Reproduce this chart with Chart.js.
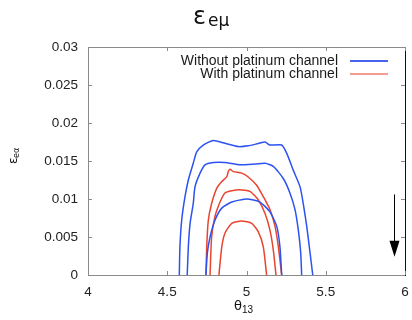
<!DOCTYPE html>
<html>
<head>
<meta charset="utf-8">
<script src="https://cdn.jsdelivr.net/npm/chart.js@4/dist/chart.umd.min.js"></script>
<style>
  body { margin: 0; background: #fff; }
</style>
</head>
<body>
<canvas id="grafico" width="412" height="320"></canvas>
<script>
// contours, [theta13, eps] pairs
var blueOuter = [[4.576,0],[4.580,0.0037],[4.591,0.0072],[4.612,0.0103],[4.633,0.0125],[4.664,0.0147],[4.686,0.0162],[4.727,0.0171],[4.791,0.0177],[4.854,0.0174],[4.948,0.0169],[5.010,0.0170],[5.074,0.0173],[5.117,0.0175],[5.148,0.0171],[5.222,0.0171],[5.254,0.0160],[5.295,0.0138],[5.338,0.0116],[5.358,0.0094],[5.380,0.0064],[5.401,0.0029],[5.418,0]];
var blueMiddle = [[4.626,0],[4.633,0.0037],[4.644,0.0068],[4.664,0.0094],[4.675,0.0116],[4.707,0.0134],[4.738,0.0145],[4.791,0.0148],[4.864,0.0148],[4.959,0.0145],[5.054,0.0146],[5.117,0.0147],[5.169,0.0143],[5.232,0.0127],[5.274,0.0108],[5.306,0.0086],[5.327,0.0059],[5.342,0.0029],[5.348,0]];
var blueInner = [[4.744,0],[4.753,0.0029],[4.770,0.0050],[4.801,0.0072],[4.844,0.0088],[4.907,0.0096],[5.001,0.0100],[5.085,0.0096],[5.148,0.0083],[5.191,0.0064],[5.211,0.0037],[5.222,0]];
var redOuter = [[4.744,0],[4.749,0.0037],[4.759,0.0072],[4.780,0.0094],[4.812,0.0114],[4.844,0.0123],[4.875,0.0129],[4.885,0.0136],[4.896,0.0139],[4.917,0.0136],[4.970,0.0134],[5.011,0.0129],[5.064,0.0118],[5.106,0.0103],[5.148,0.0086],[5.180,0.0064],[5.201,0.0037],[5.222,0]];
var redMiddle = [[4.770,0],[4.780,0.0050],[4.801,0.0077],[4.833,0.0096],[4.864,0.0108],[4.907,0.0111],[4.970,0.0112],[5.022,0.0110],[5.074,0.0099],[5.117,0.0081],[5.148,0.0059],[5.169,0.0033],[5.186,0]];
var redInner = [[4.826,0],[4.844,0.0037],[4.864,0.0055],[4.907,0.0068],[4.970,0.0071],[5.033,0.0068],[5.074,0.0057],[5.106,0.0037],[5.127,0]];

var legendLabels = ["Without platinum channel", "With platinum channel"];
var xTicks = [4, 4.5, 5, 5.5, 6];
var yTicks = [0, 0.005, 0.01, 0.015, 0.02, 0.025, 0.03];
var arrowX = 5.93, arrowFrom = 0.0106, arrowTo = 0.0024;

var azul = "#2d52f0";
var vermelho = "#e8452f";

var linha = function(pts, cor) {
  return {
    data: pts,
    borderColor: cor,
    borderWidth: 1.5,
    pointRadius: 0,
    showLine: true,
    tension: 0.2,
    fill: false
  };
};

var fonte = "'Liberation Sans', Arial, sans-serif";

var extras = {
  id: 'extras',
  afterDraw: function(chart) {
    var ctx = chart.ctx, a = chart.chartArea;
    var sx = chart.scales.x, sy = chart.scales.y;
    ctx.save();

    // frame
    ctx.lineWidth = 1;
    ctx.strokeStyle = "#8a8a8a";
    ctx.beginPath();
    ctx.moveTo(a.right, a.top + 0.5);
    ctx.lineTo(a.left + 0.5, a.top + 0.5);
    ctx.lineTo(a.left + 0.5, a.bottom + 0.5);
    ctx.lineTo(a.right, a.bottom + 0.5);
    ctx.stroke();
    ctx.strokeStyle = "#111";
    ctx.beginPath();
    ctx.moveTo(a.right + 0.5, a.top);
    ctx.lineTo(a.right + 0.5, a.bottom + 1);
    ctx.stroke();

    // inward ticks
    ctx.strokeStyle = "#8a8a8a";
    ctx.beginPath();
    xTicks.forEach(function(v) {
      var px = Math.round(sx.getPixelForValue(v)) + 0.5;
      ctx.moveTo(px, a.bottom); ctx.lineTo(px, a.bottom - 4);
      ctx.moveTo(px, a.top); ctx.lineTo(px, a.top + 4);
    });
    yTicks.forEach(function(v) {
      var py = Math.round(sy.getPixelForValue(v)) + 0.5;
      ctx.moveTo(a.left, py); ctx.lineTo(a.left + 4, py);
      ctx.moveTo(a.right, py); ctx.lineTo(a.right - 4, py);
    });
    ctx.stroke();

    // title
    ctx.fillStyle = "#111";
    ctx.textBaseline = "alphabetic";
    ctx.textAlign = "left";
    ctx.font = "24px 'DejaVu Sans'";
    ctx.fillText("\u03b5", 193, 24);
    ctx.font = "17px 'DejaVu Sans'";
    ctx.fillText("e\u03bc", 208, 26);

    // x title
    ctx.font = "13px 'DejaVu Sans'";
    ctx.fillText("\u03b8", 234, 310);
    ctx.font = "10px " + fonte;
    ctx.fillText("13", 242, 313);

    // y title
    ctx.save();
    ctx.translate(17, 164);
    ctx.rotate(-Math.PI / 2);
    ctx.font = "12px 'DejaVu Sans'";
    ctx.fillText("\u03b5", 0, 0);
    ctx.font = "8px 'DejaVu Sans'";
    ctx.fillText("e\u03b1", 6, 2);
    ctx.restore();

    // legend
    ctx.font = "14px " + fonte;
    ctx.textAlign = "right";
    ctx.textBaseline = "middle";
    ctx.fillStyle = "#1a1a1a";
    ctx.fillText(legendLabels[0], 338, 61);
    ctx.fillText(legendLabels[1], 338, 74);
    ctx.lineWidth = 1.3;
    ctx.strokeStyle = "#0a32e6";
    ctx.beginPath(); ctx.moveTo(350, 61); ctx.lineTo(388, 61); ctx.stroke();
    ctx.strokeStyle = "#f07a6e";
    ctx.beginPath(); ctx.moveTo(350, 74); ctx.lineTo(388, 74); ctx.stroke();

    // arrow
    var ax = Math.round(sx.getPixelForValue(arrowX)) + 0.5;
    var ay1 = sy.getPixelForValue(arrowFrom), ay2 = sy.getPixelForValue(arrowTo);
    ctx.strokeStyle = "#000";
    ctx.lineWidth = 1;
    ctx.beginPath(); ctx.moveTo(ax, ay1); ctx.lineTo(ax, ay2 - 12); ctx.stroke();
    ctx.fillStyle = "#000";
    ctx.beginPath();
    ctx.moveTo(ax - 5, ay2 - 16);
    ctx.lineTo(ax + 5, ay2 - 16);
    ctx.lineTo(ax, ay2);
    ctx.closePath();
    ctx.fill();

    ctx.restore();
  }
};

new Chart(document.getElementById("grafico"), {
  type: 'scatter',
  data: {
    datasets: [
      linha(blueOuter, azul),
      linha(blueMiddle, azul),
      linha(blueInner, azul),
      linha(redOuter, vermelho),
      linha(redMiddle, vermelho),
      linha(redInner, vermelho)
    ]
  },
  options: {
    responsive: false,
    animation: false,
    layout: { padding: { left: 0, right: 7, top: 47, bottom: 0 } },
    plugins: {
      legend: { display: false },
      title: { display: false },
      tooltip: { enabled: false }
    },
    scales: {
      x: {
        type: 'linear',
        min: 4, max: 6,
        afterBuildTicks: function(s) { s.ticks = xTicks.map(function(v) { return { value: v }; }); },
        afterFit: function(s) { s.height = 45; s.paddingLeft = 0; s.paddingRight = 0; },
        grid: { display: false, drawTicks: false },
        border: { display: false },
        ticks: {
          padding: 9,
          color: "#222",
          font: { family: fonte, size: 13.5 },
          maxRotation: 0,
          callback: function(v) { return String(+v.toFixed(1)); }
        }
      },
      y: {
        type: 'linear',
        min: 0, max: 0.03,
        afterBuildTicks: function(s) { s.ticks = yTicks.map(function(v) { return { value: v }; }); },
        afterFit: function(s) { s.width = 88; s.paddingTop = 0; s.paddingBottom = 0; },
        grid: { display: false, drawTicks: false },
        border: { display: false },
        ticks: {
          padding: 10,
          color: "#222",
          font: { family: fonte, size: 13.5 },
          callback: function(v) { return String(+v.toFixed(3)); }
        }
      }
    }
  },
  plugins: [extras]
});
</script>
</body>
</html>
